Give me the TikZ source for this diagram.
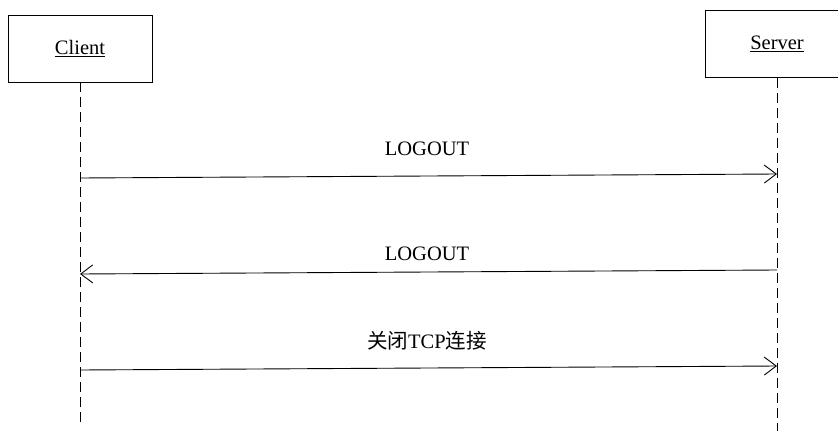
\documentclass[tikz,border=0pt]{standalone}
\usepackage{fontspec}
\setmainfont{Liberation Serif}
\newfontfamily\cjk{Noto Sans CJK SC}
\usetikzlibrary{arrows.meta}

\tikzset{
  objbox/.style={draw, line width=0.8pt, minimum width=144pt, minimum height=67pt, inner sep=0pt},
  lifeline/.style={line width=0.8pt, dash pattern=on 10pt off 5pt},
  msg/.style={line width=0.9pt, -{Straight Barb[length=12pt,width=18pt,line width=0.9pt]}},
  msglabel/.style={inner sep=0pt, anchor=base}
}
% one object with its dashed life line
\newcommand{\lifeobject}[5]
{\node [objbox] (#1) at (#2,#3) {\underline{#4}};
 \draw [lifeline] (#1.south) -- (#2,#5) coordinate (#1end);
}

\begin{document}
\begin{tikzpicture}[x=1pt,y=-1pt,font=\fontsize{20.5}{24}\selectfont]
\useasboundingbox (0,0) rectangle (838,431);

\lifeobject{client}{80}{48.5}{Client}{425};
\lifeobject{server}{777}{44}{Server}{440};

% messages
\coordinate (c1) at (80,178);  \coordinate (s1) at (777,174);
\coordinate (s2) at (777,270); \coordinate (c2) at (80,274);
\coordinate (c3) at (80,370);  \coordinate (s3) at (777,366);

\draw [msg] (c1) -- (s1);
\node [msglabel] (logout1) at (427,155) {LOGOUT};

\draw [msg] (s2) -- (c2);
\node [msglabel] (logout2) at (427,260) {LOGOUT};

\draw [msg] (c3) -- (s3);
\node [msglabel] (close) at (427,348) {{\cjk 关闭}TCP{\cjk 连接}};

\end{tikzpicture}
\end{document}
